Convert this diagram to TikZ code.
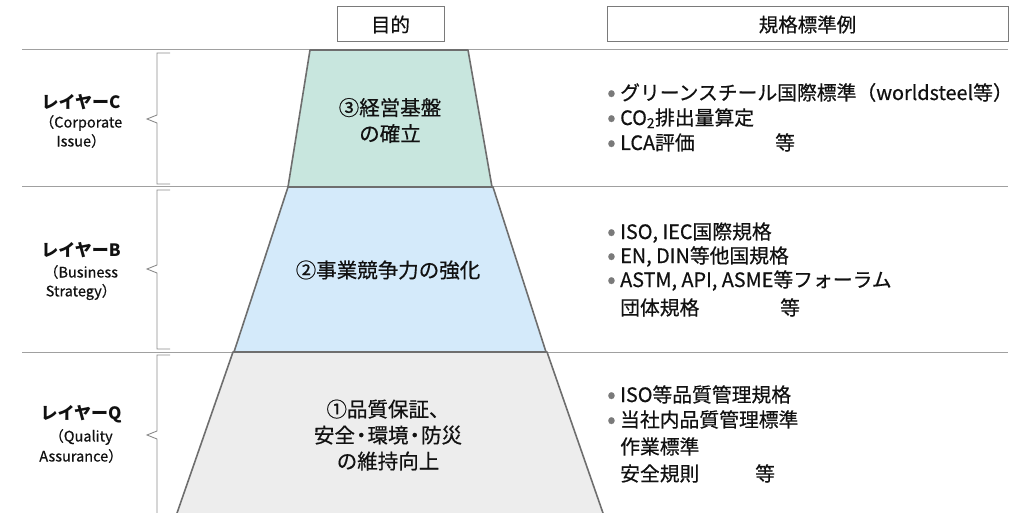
\documentclass[tikz,border=0pt]{standalone}
\usepackage{fontspec}
\setmainfont{Noto Sans CJK JP}[UprightFeatures={FakeBold=0.5}]
\definecolor{linegray}{HTML}{A0A0A0}
\definecolor{edgegray}{HTML}{6E6E6E}
\definecolor{bracegray}{HTML}{8C8C8C}
\definecolor{boxgray}{HTML}{7A7A7A}
\definecolor{fillC}{HTML}{C8E6DE}
\definecolor{fillB}{HTML}{D4EAFA}
\definecolor{fillQ}{HTML}{EDEDED}
\definecolor{txt}{HTML}{111111}
\definecolor{bulgray}{HTML}{7A7A7A}
\newcommand\bul{\makebox[13pt][l]{\raisebox{-1pt}{\textcolor{bulgray}{\fontsize{25}{22}\selectfont •}}}}
\newcommand\nakaguro{\kern-4pt・\kern-4pt}
\begin{document}
\begin{tikzpicture}[x=1pt,y=-1pt,
  hline/.style={draw=linegray, line width=1pt},
  trap/.style={draw=edgegray, line width=1.6pt, line join=round},
  brace/.style={draw=bracegray, line width=0.9pt},
  hdr/.style={draw=boxgray, fill=white, line width=1pt, minimum height=35pt, inner sep=0pt, font=\fontsize{19.5}{22}\selectfont, text=txt},
  midtext/.style={align=center, inner sep=0pt, font=\fontsize{20.5}{26}\selectfont, text=txt},
  rt/.style={anchor=base west, inner sep=0pt, font=\fontsize{19.8}{22}\selectfont, text=txt},
  lt/.style={inner sep=0pt, font=\bfseries\fontsize{17}{18}\selectfont, text=txt},
  ls/.style={inner sep=0pt, font=\fontsize{14.5}{18}\selectfont, text=txt},
]
\useasboundingbox (0,0) rectangle (1019,513);
\fill[white] (0,0) rectangle (1019,513);
% horizontal rules
\draw[hline] (22,50) -- (1008,50);
\draw[hline] (22,187) -- (1008,187);
\draw[hline] (22,352) -- (1008,352);
% trapezoids
\filldraw[trap, fill=fillC] (310,50) -- (468,50) -- (492,187) -- (288,187) -- cycle;
\filldraw[trap, fill=fillB] (288,187) -- (493,187) -- (546,352) -- (234,352) -- cycle;
\fill[fillQ] (233,352) -- (547,352) -- (603,516) -- (177,516) -- cycle;
\draw[trap] (176,516) -- (233,352) -- (547,352) -- (604,516);
% braces
\draw[brace] (170,53) -- (157,53) -- (157,115) -- (147,119) -- (157,123) -- (157,184) -- (170,184);
\draw[brace] (170,190) -- (157,190) -- (157,265) -- (147,269) -- (157,273) -- (157,349) -- (170,349);
\draw[brace] (170,355) -- (157,355) -- (157,431) -- (147,435) -- (157,439) -- (157,520);
% headers
\node[hdr, minimum width=107pt] (hdrA) at (390.5,24.5) {目的};
\node[hdr, minimum width=401pt] (hdrB) at (807.5,24.5) {規格標準例};
% left labels
\node[lt] (lC) at (81,102) {レイヤーC};
\node[ls] (lC1) at (81,123) {（Corporate};
\node[ls] (lC2) at (81,141) {Issue）};
\node[lt] (lB) at (81,250) {レイヤーB};
\node[ls] (lB1) at (81,272) {（Business};
\node[ls] (lB2) at (81,292) {Strategy）};
\node[lt] (lQ) at (81,414) {レイヤーQ};
\node[ls] (lQ1) at (81,437) {（Quality};
\node[ls] (lQ2) at (81,456) {Assurance）};
% goals
\node[midtext] (goalC) at (390,120.5) {③経営基盤\\の確立};
\node[midtext] (goalB) at (388,270) {②事業競争力の強化};
\node[midtext] (goalQ) at (388,435) {①品質保証、\\安全\nakaguro 環境\nakaguro 防災\\の維持向上};
% standards
\node[rt] (c1) at (607,100) {\bul グリーンスチール国際標準（worldsteel等）};
\node[rt] (c2) at (607,125) {\bul CO\textsubscript{2}排出量算定};
\node[rt] (c3) at (607,150) {\bul\makebox[155pt][l]{LCA評価}等};
\node[rt] (b1) at (607,239) {\bul ISO, IEC国際規格};
\node[rt] (b2) at (607,263) {\bul EN, DIN等他国規格};
\node[rt] (b3) at (607,287) {\bul ASTM, API, ASME等フォーラム};
\node[rt] (b4) at (620,315) {\makebox[160pt][l]{団体規格}等};
\node[rt] (q1) at (607,402) {\bul ISO等品質管理規格};
\node[rt] (q2) at (607,427) {\bul 当社内品質管理標準};
\node[rt] (q3) at (620,454) {作業標準};
\node[rt] (q4) at (620,481) {\makebox[135pt][l]{安全規則}等};
\end{tikzpicture}
\end{document}
